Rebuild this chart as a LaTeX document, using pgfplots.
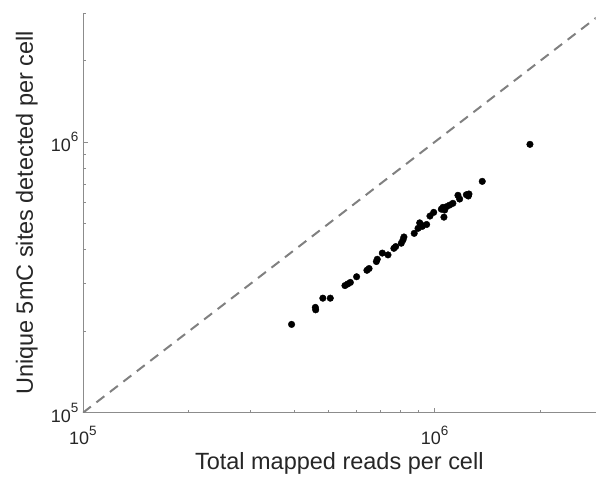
\documentclass[border=0pt]{standalone}
\usepackage{fontspec}
\setmainfont{Liberation Sans}
\usepackage{pgfplots}
\pgfplotsset{compat=1.18}
\definecolor{axgray}{RGB}{140,140,140}
\definecolor{txt}{RGB}{38,38,38}
\definecolor{dashgray}{RGB}{128,128,128}
\newcommand{\pow}[1]{10\raisebox{9.5pt}{\fontsize{13.5}{14}\selectfont #1}}

\begin{document}
\begin{tikzpicture}
\begin{axis}[
  name=ax,
  xmode=log, ymode=log,
  scale only axis,
  width=513pt, height=400pt,
  xmin=1e5, xmax=2.87e6,
  ymin=1e5, ymax=3e6,
  xtick={1e5,1e6}, ytick={1e5,1e6},
  xticklabels={\pow{5},\pow{6}},
  yticklabels={\pow{5},\pow{6}},
  minor xtick={2e5,3e5,4e5,5e5,6e5,7e5,8e5,9e5,2e6},
  minor ytick={2e5,3e5,4e5,5e5,6e5,7e5,8e5,9e5,2e6,3e6},
  axis x line*=bottom, axis y line*=left,
  axis line style={axgray, line width=0.8pt},
  every tick/.style={axgray, line width=0.8pt},
  major tick length=5pt, minor tick length=3pt,
  tick align=inside,
  ticklabel style={font=\fontsize{18}{20}\selectfont, text=txt},
  xticklabel style={anchor=base, yshift=-32pt},
  yticklabel style={anchor=east, xshift=-1pt},
  label style={font=\fontsize{23.5}{26}\selectfont, text=txt},
  xlabel={Total mapped reads per cell},
  ylabel={Unique 5mC sites detected per cell},
  xlabel style={at={(axis description cs:0.5,-0.1425)}, anchor=base},
  ylabel style={at={(axis description cs:-0.0975,0.5)}, anchor=base},
]
% identity line
\addplot[dashgray, line width=2pt, dash pattern=on 10pt off 7pt] coordinates {(1e5,1e5) (3e6,3e6)};

% cells
\addplot[only marks, mark=*, mark size=3.3pt, black] coordinates {
(3.92e5,2.12e5) (4.58e5,2.45e5) (4.59e5,2.40e5) (4.81e5,2.65e5) (5.05e5,2.65e5)
(5.56e5,2.95e5) (5.66e5,2.99e5) (5.76e5,3.03e5) (6.00e5,3.18e5) (6.42e5,3.36e5)
(6.51e5,3.41e5) (6.83e5,3.62e5) (6.87e5,3.69e5) (7.10e5,3.89e5) (7.37e5,3.83e5)
(7.66e5,4.05e5) (7.75e5,4.11e5) (8.04e5,4.23e5) (8.13e5,4.35e5) (8.18e5,4.46e5)
(8.75e5,4.60e5) (8.97e5,4.80e5) (9.07e5,5.03e5) (9.22e5,4.88e5) (9.16e5,4.94e5)
(9.49e5,4.96e5) (9.70e5,5.33e5) (9.94e5,5.50e5) (1.045e6,5.65e5) (1.056e6,5.74e5)
(1.068e6,5.61e5) (1.080e6,5.77e5) (1.063e6,5.28e5) (1.103e6,5.85e5) (1.127e6,5.94e5)
(1.165e6,6.36e5) (1.178e6,6.16e5) (1.231e6,6.39e5) (1.252e6,6.43e5) (1.247e6,6.32e5)
(1.366e6,7.16e5) (1.867e6,9.81e5)
};
\end{axis}
\path ([xshift=-83pt,yshift=-69pt]ax.south west) ([yshift=13pt]ax.north east);
\end{tikzpicture}
\end{document}
